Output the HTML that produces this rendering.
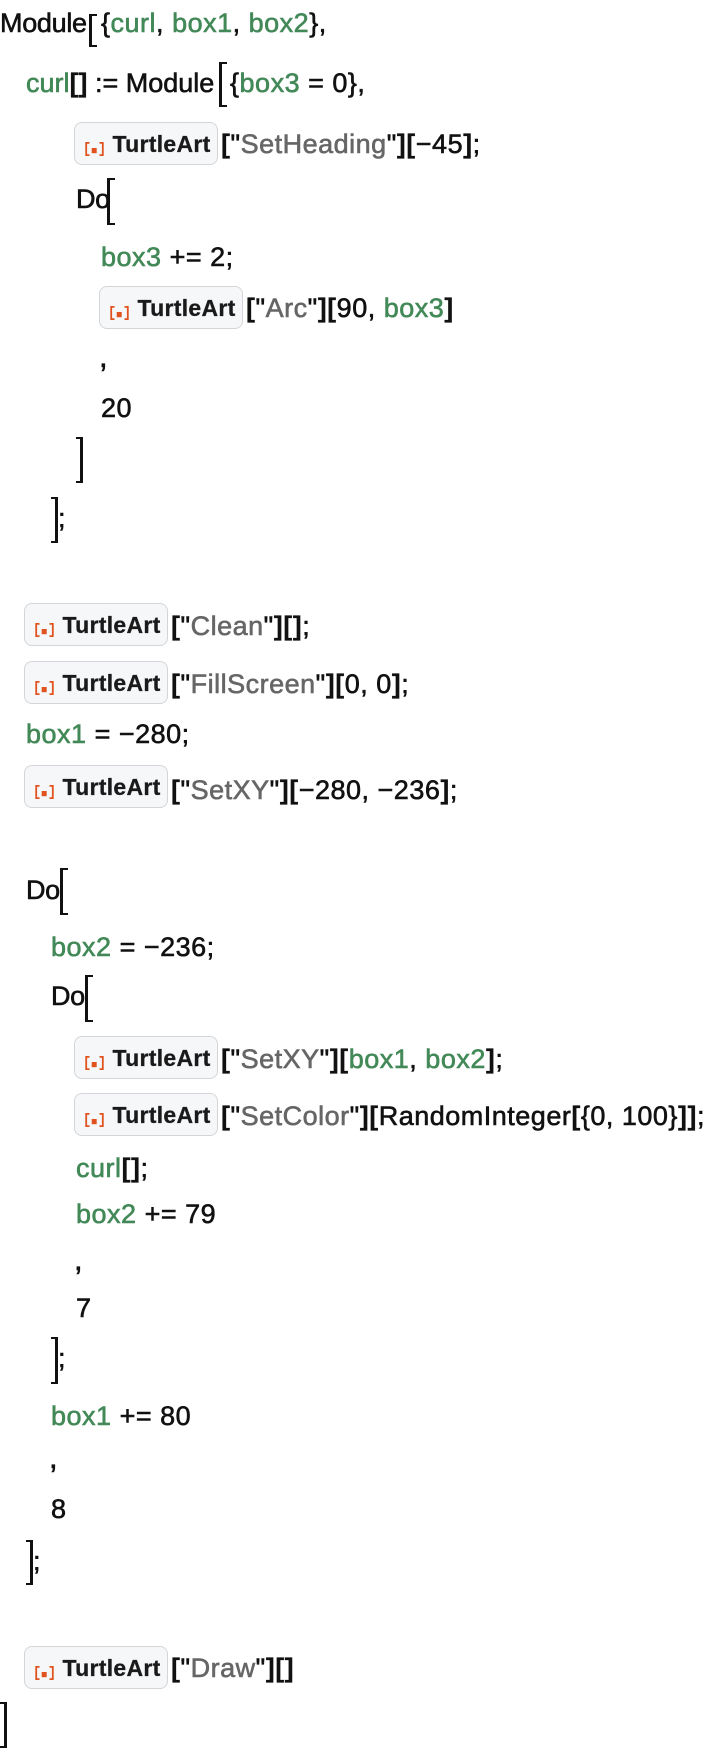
<!DOCTYPE html>
<html>
<head>
<meta charset="utf-8">
<style>
  html, body { margin:0; padding:0; background:#fff; }
  body { width:716px; height:1752px; position:relative; overflow:hidden;
         font-family:"Liberation Sans", "DejaVu Sans", sans-serif; }
  .l { position:absolute; white-space:pre; font-size:27px; line-height:30px;
       color:#111; letter-spacing:0.5px; -webkit-text-stroke:0.6px currentColor; }
  .g { color:#438958; }
  .s { color:#666; }
  .k { font-weight:bold; -webkit-text-stroke:0.2px currentColor; }
  .cm { font-size:31px; }
  .do { letter-spacing:-0.4px; }
  .b { position:absolute; box-sizing:border-box; width:144px; height:43px;
       border:1.5px solid #d3d5d8; border-radius:8px; background:#f6f7f9; }
  .b svg { position:absolute; left:9.5px; top:18.5px; }
  .b span { position:absolute; left:37.5px; top:10px; font-size:23px; line-height:23px;
            font-weight:bold; color:#1a1a1a; letter-spacing:0.3px; white-space:pre;
            -webkit-text-stroke:0.3px currentColor; }
  .ob { position:absolute; box-sizing:border-box; width:8px;
        border-left:3px solid #111; border-top:2.6px solid #111; border-bottom:2.6px solid #111; }
  .cb { position:absolute; box-sizing:border-box; width:7px;
        border-right:3px solid #111; border-top:2.6px solid #111; border-bottom:2.6px solid #111; }
</style>
</head>
<body>

<!-- Line 1 -->
<div class="l" style="left:0;top:8px;letter-spacing:-0.3px">Module</div>
<div class="ob" style="left:89px;top:14px;height:33px"></div>
<div class="l" style="left:101px;top:8px">{<span class="g">curl</span>, <span class="g">box1</span>, <span class="g">box2</span>},</div>

<!-- Line 2 -->
<div class="l" style="left:26px;top:68px;letter-spacing:0"><span class="g">curl</span><span class="k">[]</span> := Module</div>
<div class="ob" style="left:219px;top:62px;height:45px"></div>
<div class="l" style="left:230px;top:68px">{<span class="g">box3</span> = 0},</div>

<!-- Line 3 -->
<div class="b" style="left:74px;top:122px"><svg width="20" height="14" viewBox="0 0 20 14"><path d="M4.5,0.9 H1.2 V13.1 H4.5" fill="none" stroke="#e0531f" stroke-width="1.8"/><rect x="6.7" y="6" width="5" height="5.2" fill="#e0531f"/><path d="M14.5,0.9 H17.8 V13.1 H14.5" fill="none" stroke="#e0531f" stroke-width="1.8"/></svg><span>TurtleArt</span></div>
<div class="l" style="left:221px;top:129px"><span class="k">[</span>"<span class="s">SetHeading</span>"<span class="k">][</span>−45<span class="k">]</span>;</div>

<!-- Line 4 -->
<div class="l do" style="left:76px;top:184px">Do</div>
<div class="ob" style="left:107px;top:178px;height:47px"></div>

<!-- Line 5 -->
<div class="l" style="left:101px;top:242px"><span class="g">box3</span> += 2;</div>

<!-- Line 6 -->
<div class="b" style="left:99px;top:286px"><svg width="20" height="14" viewBox="0 0 20 14"><path d="M4.5,0.9 H1.2 V13.1 H4.5" fill="none" stroke="#e0531f" stroke-width="1.8"/><rect x="6.7" y="6" width="5" height="5.2" fill="#e0531f"/><path d="M14.5,0.9 H17.8 V13.1 H14.5" fill="none" stroke="#e0531f" stroke-width="1.8"/></svg><span>TurtleArt</span></div>
<div class="l" style="left:246px;top:293px"><span class="k">[</span>"<span class="s">Arc</span>"<span class="k">][</span>90, <span class="g">box3</span><span class="k">]</span></div>

<!-- Line 7 -->
<div class="l cm" style="left:99px;top:342px">,</div>
<!-- Line 8 -->
<div class="l" style="left:101px;top:393px">20</div>
<!-- Line 9 -->
<div class="cb" style="left:76px;top:437px;height:46px"></div>
<!-- Line 10 -->
<div class="cb" style="left:51px;top:497px;height:46px"></div>
<div class="l" style="left:58px;top:503px">;</div>

<!-- Line 11 -->
<div class="b" style="left:24px;top:603px"><svg width="20" height="14" viewBox="0 0 20 14"><path d="M4.5,0.9 H1.2 V13.1 H4.5" fill="none" stroke="#e0531f" stroke-width="1.8"/><rect x="6.7" y="6" width="5" height="5.2" fill="#e0531f"/><path d="M14.5,0.9 H17.8 V13.1 H14.5" fill="none" stroke="#e0531f" stroke-width="1.8"/></svg><span>TurtleArt</span></div>
<div class="l" style="left:171px;top:611px"><span class="k">[</span>"<span class="s">Clean</span>"<span class="k">][]</span>;</div>

<!-- Line 12 -->
<div class="b" style="left:24px;top:661px"><svg width="20" height="14" viewBox="0 0 20 14"><path d="M4.5,0.9 H1.2 V13.1 H4.5" fill="none" stroke="#e0531f" stroke-width="1.8"/><rect x="6.7" y="6" width="5" height="5.2" fill="#e0531f"/><path d="M14.5,0.9 H17.8 V13.1 H14.5" fill="none" stroke="#e0531f" stroke-width="1.8"/></svg><span>TurtleArt</span></div>
<div class="l" style="left:171px;top:669px"><span class="k">[</span>"<span class="s">FillScreen</span>"<span class="k">][</span>0, 0<span class="k">]</span>;</div>

<!-- Line 13 -->
<div class="l" style="left:26px;top:719px"><span class="g">box1</span> = −280;</div>

<!-- Line 14 -->
<div class="b" style="left:24px;top:765px"><svg width="20" height="14" viewBox="0 0 20 14"><path d="M4.5,0.9 H1.2 V13.1 H4.5" fill="none" stroke="#e0531f" stroke-width="1.8"/><rect x="6.7" y="6" width="5" height="5.2" fill="#e0531f"/><path d="M14.5,0.9 H17.8 V13.1 H14.5" fill="none" stroke="#e0531f" stroke-width="1.8"/></svg><span>TurtleArt</span></div>
<div class="l" style="left:171px;top:775px"><span class="k">[</span>"<span class="s">SetXY</span>"<span class="k">][</span>−280, −236<span class="k">]</span>;</div>

<!-- Line 15 -->
<div class="l do" style="left:26px;top:875px">Do</div>
<div class="ob" style="left:60px;top:868px;height:47px"></div>

<!-- Line 16 -->
<div class="l" style="left:51px;top:932px"><span class="g">box2</span> = −236;</div>

<!-- Line 17 -->
<div class="l do" style="left:51px;top:981px">Do</div>
<div class="ob" style="left:85px;top:975px;height:47px"></div>

<!-- Line 18 -->
<div class="b" style="left:74px;top:1036px"><svg width="20" height="14" viewBox="0 0 20 14"><path d="M4.5,0.9 H1.2 V13.1 H4.5" fill="none" stroke="#e0531f" stroke-width="1.8"/><rect x="6.7" y="6" width="5" height="5.2" fill="#e0531f"/><path d="M14.5,0.9 H17.8 V13.1 H14.5" fill="none" stroke="#e0531f" stroke-width="1.8"/></svg><span>TurtleArt</span></div>
<div class="l" style="left:221px;top:1044px"><span class="k">[</span>"<span class="s">SetXY</span>"<span class="k">][</span><span class="g">box1</span>, <span class="g">box2</span><span class="k">]</span>;</div>

<!-- Line 19 -->
<div class="b" style="left:74px;top:1093px"><svg width="20" height="14" viewBox="0 0 20 14"><path d="M4.5,0.9 H1.2 V13.1 H4.5" fill="none" stroke="#e0531f" stroke-width="1.8"/><rect x="6.7" y="6" width="5" height="5.2" fill="#e0531f"/><path d="M14.5,0.9 H17.8 V13.1 H14.5" fill="none" stroke="#e0531f" stroke-width="1.8"/></svg><span>TurtleArt</span></div>
<div class="l" style="left:221px;top:1101px"><span class="k">[</span>"<span class="s">SetColor</span>"<span class="k">][</span>RandomInteger<span class="k">[</span>{0, 100}<span class="k">]]</span>;</div>

<!-- Line 20 -->
<div class="l" style="left:76px;top:1153px"><span class="g">curl</span><span class="k">[]</span>;</div>
<!-- Line 21 -->
<div class="l" style="left:76px;top:1199px"><span class="g">box2</span> += 79</div>
<!-- Line 22 -->
<div class="l cm" style="left:74px;top:1245px">,</div>
<!-- Line 23 -->
<div class="l" style="left:76px;top:1293px">7</div>
<!-- Line 24 -->
<div class="cb" style="left:51px;top:1337px;height:47px"></div>
<div class="l" style="left:58px;top:1343px">;</div>

<!-- Line 25 -->
<div class="l" style="left:51px;top:1401px"><span class="g">box1</span> += 80</div>
<!-- Line 26 -->
<div class="l cm" style="left:49px;top:1443px">,</div>
<!-- Line 27 -->
<div class="l" style="left:51px;top:1494px">8</div>
<!-- Line 28 -->
<div class="cb" style="left:26px;top:1540px;height:45px"></div>
<div class="l" style="left:33px;top:1546px">;</div>

<!-- Line 29 -->
<div class="b" style="left:24px;top:1646px"><svg width="20" height="14" viewBox="0 0 20 14"><path d="M4.5,0.9 H1.2 V13.1 H4.5" fill="none" stroke="#e0531f" stroke-width="1.8"/><rect x="6.7" y="6" width="5" height="5.2" fill="#e0531f"/><path d="M14.5,0.9 H17.8 V13.1 H14.5" fill="none" stroke="#e0531f" stroke-width="1.8"/></svg><span>TurtleArt</span></div>
<div class="l" style="left:171px;top:1653px"><span class="k">[</span>"<span class="s">Draw</span>"<span class="k">][]</span></div>

<!-- Line 30 -->
<div class="cb" style="left:0;top:1702px;height:46px"></div>

</body>
</html>
